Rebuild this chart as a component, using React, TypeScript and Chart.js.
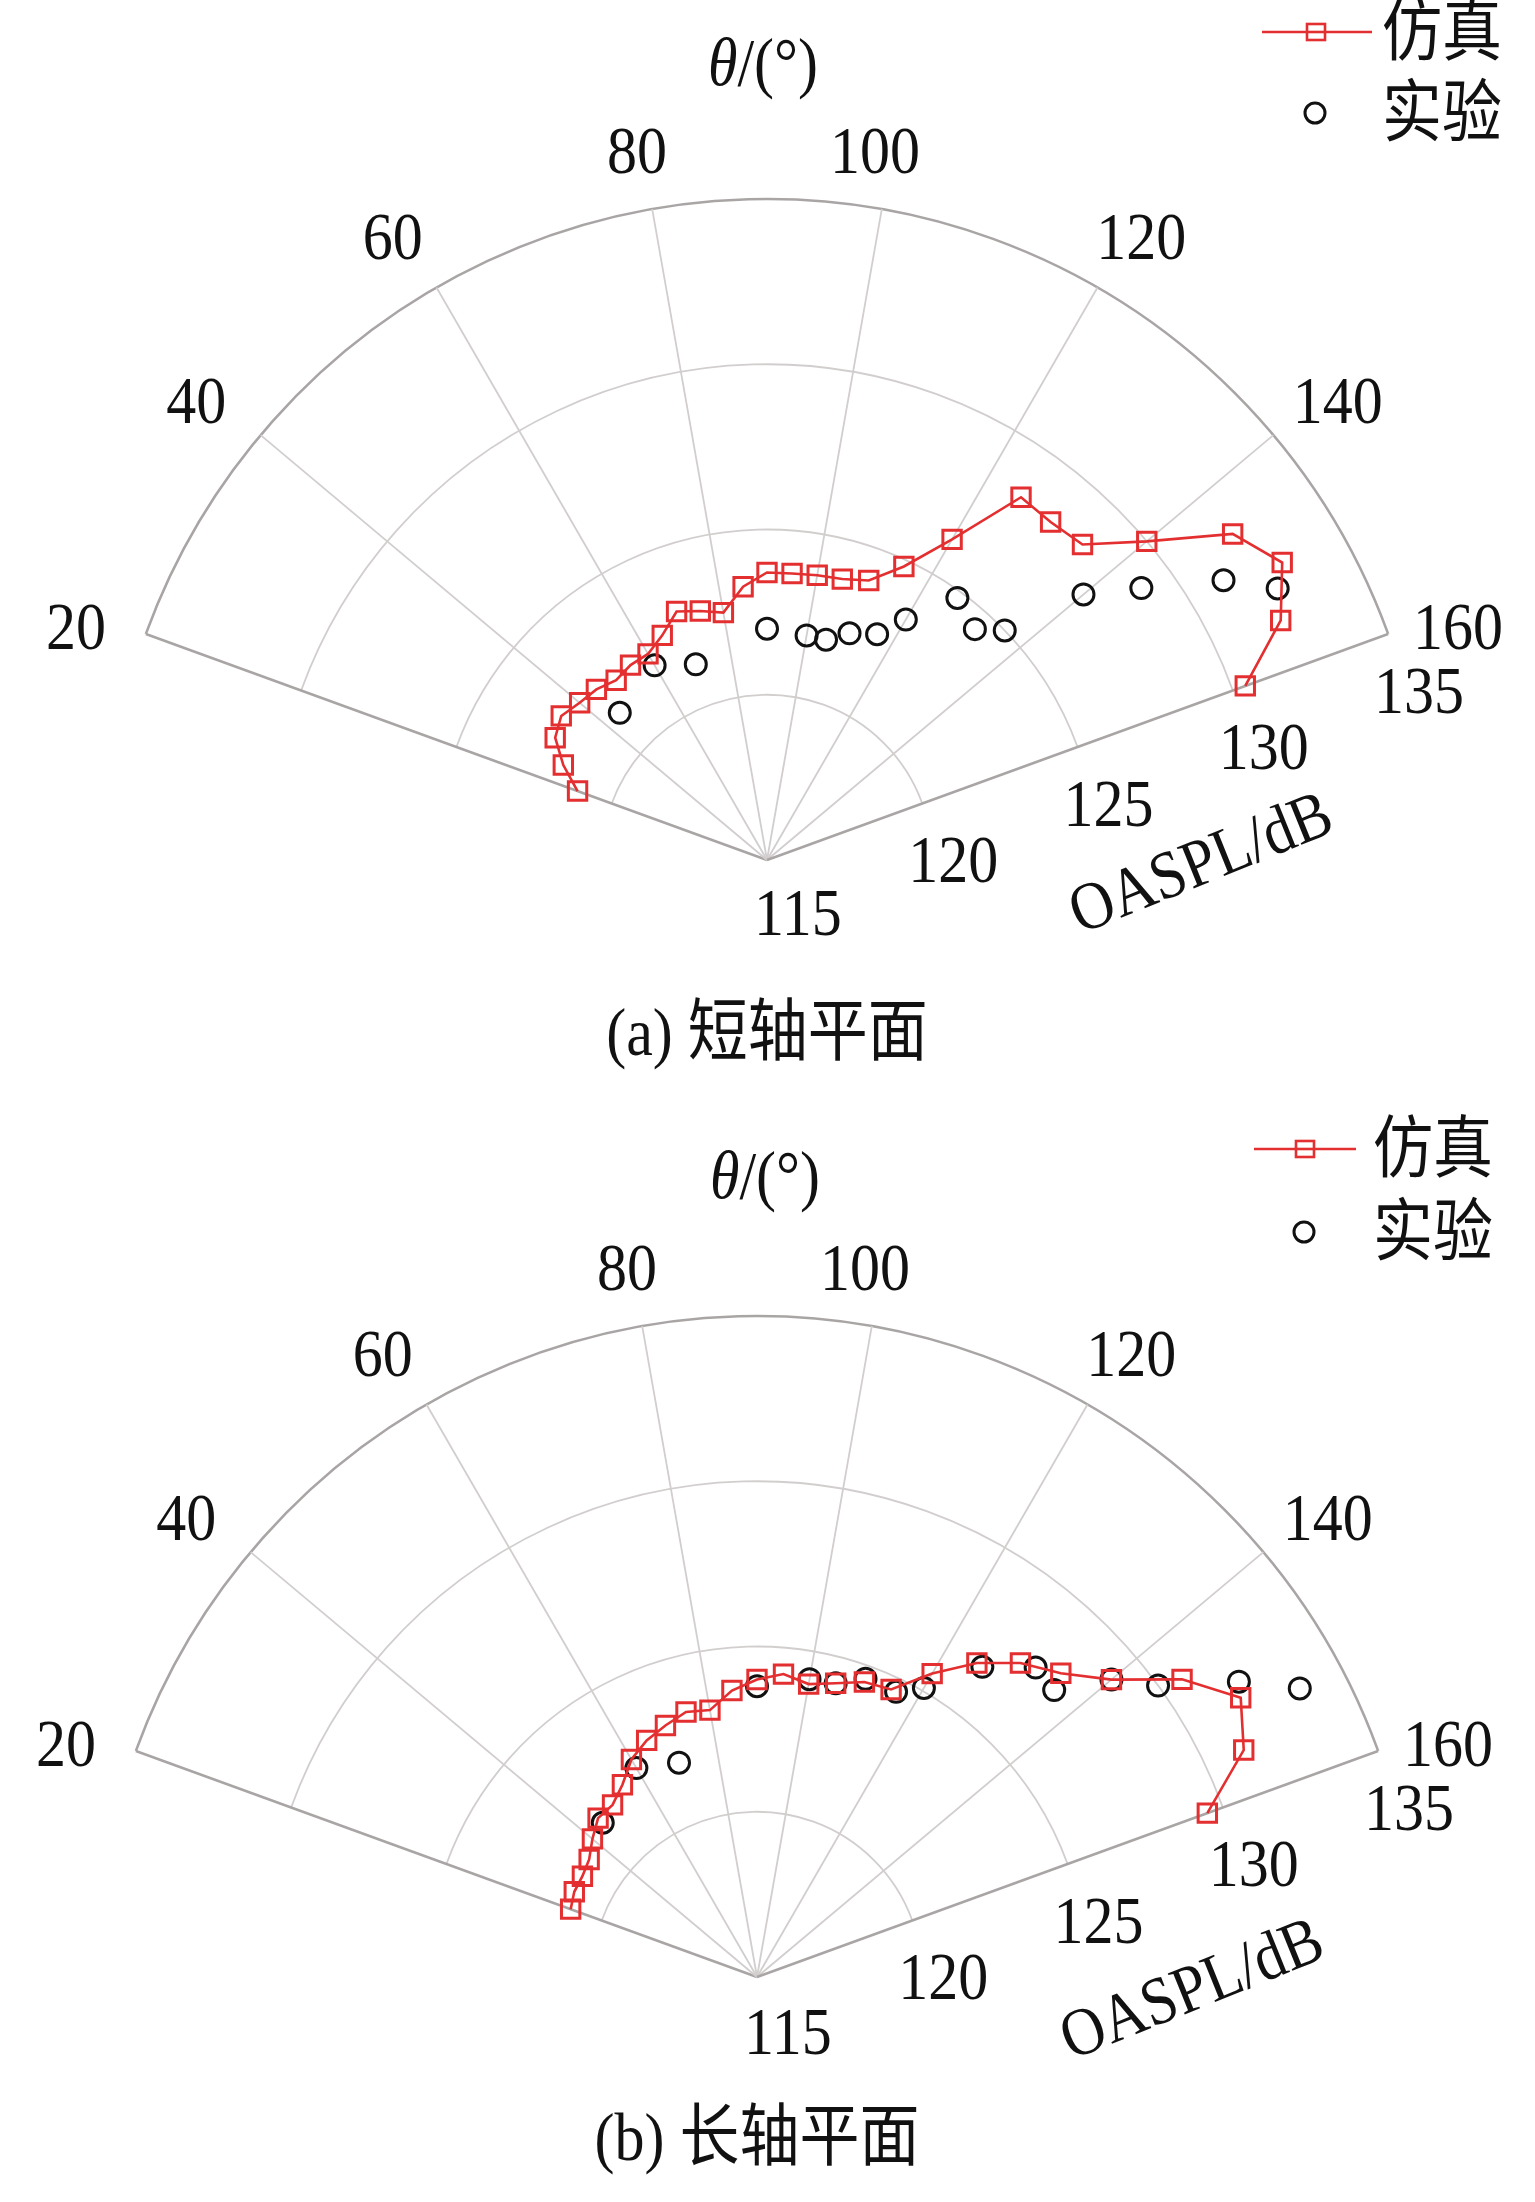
import React, { useEffect, useRef } from 'react';
import { Chart, registerables } from 'chart.js';

Chart.register(...registerables);

// ---------------- data ----------------
const thetaSim = [20, 25, 30, 35, 40, 45, 50, 55, 60, 65, 70, 75, 80, 85, 90, 95, 100, 105, 110, 115, 120, 125, 130, 135, 140, 145, 150, 155, 160];
const simShort = [121.1, 121.8, 122.4, 122.6, 122.4, 122.3, 122.1, 122.2, 122.2, 122.5, 123.0, 122.8, 122.6, 123.3, 123.7, 123.7, 123.75, 123.8, 124.0, 124.8, 126.2, 128.4, 128.35, 128.5, 130.0, 132.2, 133.0, 132.15, 130.4];
const simLong = [121.0, 121.1, 121.1, 121.2, 121.5, 121.8, 121.8, 122.1, 122.6, 122.9, 123.1, 123.3, 123.2, 123.7, 124.0, 124.2, 124.0, 124.2, 124.5, 124.6, 125.6, 126.6, 127.4, 128.0, 129.0, 130.7, 131.9, 131.25, 129.5];

const thetaExp = [45, 60, 70, 90, 100, 105, 110, 116, 120, 126, 132, 136, 140, 144, 148.5, 152];
const expShort = [121.3, 121.8, 121.3, 122.0, 121.9, 121.9, 122.3, 122.6, 123.4, 124.8, 124.4, 125.0, 127.5, 129.0, 131.2, 132.5];
const expLong = [121.6, 122.3, 121.9, 123.8, 124.15, 124.2, 124.6, 124.6, 125.1, 126.6, 127.6, 127.5, 129.0, 130.0, 132.1, 133.6];

const angleTicks = [20, 40, 60, 80, 100, 120, 140, 160];
const radialTicks = [115, 120, 125, 130, 135];
const THETA_MIN = 20;
const THETA_MAX = 160;
const R_MIN = 115;
const R_MAX = 135;
const seriesNames = ['仿真', '实验'];
const angleTitle = ['θ', '/(°)'];
const radialTitle = 'OASPL/dB';
const captions = ['(a) 短轴平面', '(b) 长轴平面'];

// ---------------- layout ----------------
const W = 1535;
const RPX = 661;
const FS = 60; // font size
const STRETCH = 1.13; // vertical text stretch seen in the figure
const SERIF = '"Liberation Serif", "Noto Sans CJK SC", serif';
const RED = '#e42f30';
const GRID_LIGHT = '#d2cece';
const GRID_DARK = '#a9a5a5';

const panels = [
  {
    top: 0, height: 1100, cx: 767, cy: 860, caption: captions[0], sim: simShort, exp: expShort,
    titleX: 763, titleY: 62, legLine: [1262, 1372], legY1: 32, legY2: 113, legTextX: 1382, legMarkX: 1316,
    oaspl: [1200, 861], capY: 1032, tick115dy: -4,
  },
  {
    top: 1100, height: 1102, cx: 757, cy: 877, caption: captions[1], sim: simLong, exp: expLong,
    titleX: 765, titleY: 75, legLine: [1254, 1356], legY1: 49, legY2: 132, legTextX: 1373, legMarkX: 1305,
    oaspl: [1191, 887], capY: 1037, tick115dy: -2,
  },
];

const deg = Math.PI / 180;
function toXY(theta: number, r: number) {
  const phi = (180 - theta) * deg;
  const d = r - R_MIN;
  return { x: d * Math.cos(phi), y: d * Math.sin(phi) };
}

// draw text vertically centred at (x, y), slightly stretched vertically
function drawText(ctx: CanvasRenderingContext2D, text: string, x: number, y: number, align: CanvasTextAlign, italic = false) {
  ctx.save();
  ctx.font = `${italic ? 'italic ' : ''}${FS}px ${SERIF}`;
  ctx.textAlign = align;
  ctx.textBaseline = 'alphabetic';
  ctx.translate(x, y);
  ctx.scale(1, STRETCH);
  ctx.fillText(text, 0, 0.34 * FS);
  ctx.restore();
}

function makePlugin(p: any) {
  return {
    id: 'fanGrid',
    beforeDatasetsDraw(chart: any) {
      const { ctx, scales } = chart;
      const xs = scales.x, ys = scales.y;
      const cxp = xs.getPixelForValue(0);
      const cyp = ys.getPixelForValue(0);
      const unit = xs.getPixelForValue(1) - cxp;
      ctx.save();
      radialTicks.slice(1).forEach((v) => {
        const rad = (v - R_MIN) * unit;
        const outer = v === R_MAX;
        ctx.beginPath();
        ctx.strokeStyle = outer ? GRID_DARK : GRID_LIGHT;
        ctx.lineWidth = outer ? 2.6 : 1.8;
        ctx.arc(cxp, cyp, rad, -(180 - THETA_MIN) * deg, -(180 - THETA_MAX) * deg, false);
        ctx.stroke();
      });
      angleTicks.forEach((t) => {
        const edge = t === THETA_MIN || t === THETA_MAX;
        const e = toXY(t, R_MAX);
        ctx.beginPath();
        ctx.strokeStyle = edge ? GRID_DARK : GRID_LIGHT;
        ctx.lineWidth = edge ? 2.6 : 1.8;
        ctx.moveTo(cxp, cyp);
        ctx.lineTo(xs.getPixelForValue(e.x), ys.getPixelForValue(e.y));
        ctx.stroke();
      });
      ctx.restore();
    },
    afterDraw(chart: any) {
      const { ctx, scales } = chart;
      const xs = scales.x, ys = scales.y;
      const cxp = xs.getPixelForValue(0);
      const cyp = ys.getPixelForValue(0);
      const unit = xs.getPixelForValue(1) - cxp;
      const Rp = (R_MAX - R_MIN) * unit;
      ctx.save();
      ctx.fillStyle = '#111';
      // angle tick labels
      angleTicks.forEach((t) => {
        const phi = (180 - t) * deg;
        const c = Math.cos(phi), s = Math.sin(phi);
        const c6 = Math.pow(c, 6);
        const x = cxp + (Rp + 88 - 20 * c6) * c + (t === 100 ? -22 : 0);
        const y = cyp - (Rp + 60) * s + 18 * c6;
        drawText(ctx, String(t), x, y, 'center');
      });
      // radial tick labels along the 160 edge
      const a = (180 - THETA_MAX) * deg;
      const al = [Math.cos(a), -Math.sin(a)];
      const pe = [Math.sin(a), Math.cos(a)];
      radialTicks.forEach((v) => {
        const d = (v - R_MIN) * unit;
        const x = cxp + d * al[0] + 63 * pe[0] + 10 * al[0];
        const y = cyp + d * al[1] + 63 * pe[1] + 10 * al[1] + (v === R_MIN ? p.tick115dy : 0);
        drawText(ctx, String(v), x, y, 'center');
      });
      // radial title
      ctx.save();
      ctx.translate(p.oaspl[0], p.oaspl[1]);
      ctx.rotate(-22 * deg);
      drawText(ctx, radialTitle, 0, 0, 'center');
      ctx.restore();
      // angle title
      ctx.font = `italic ${FS}px ${SERIF}`;
      const w1 = ctx.measureText(angleTitle[0]).width;
      ctx.font = `${FS}px ${SERIF}`;
      const w2 = ctx.measureText(angleTitle[1]).width;
      const x0 = p.titleX - (w1 + w2) / 2;
      drawText(ctx, angleTitle[0], x0, p.titleY, 'left', true);
      drawText(ctx, angleTitle[1], x0 + w1, p.titleY, 'left');
      // caption
      drawText(ctx, p.caption, cxp, p.capY, 'center');
      // legend
      drawText(ctx, seriesNames[0], p.legTextX, p.legY1, 'left');
      drawText(ctx, seriesNames[1], p.legTextX, p.legY2, 'left');
      ctx.strokeStyle = RED;
      ctx.lineWidth = 2.6;
      ctx.beginPath();
      ctx.moveTo(p.legLine[0], p.legY1);
      ctx.lineTo(p.legLine[1], p.legY1);
      ctx.stroke();
      ctx.fillStyle = '#fff';
      ctx.fillRect(p.legMarkX - 9, p.legY1 - 8, 18, 16);
      ctx.strokeRect(p.legMarkX - 9, p.legY1 - 8, 18, 16);
      ctx.beginPath();
      ctx.moveTo(p.legMarkX - 9, p.legY1);
      ctx.lineTo(p.legMarkX + 9, p.legY1);
      ctx.stroke();
      ctx.strokeStyle = '#111';
      ctx.lineWidth = 3;
      ctx.beginPath();
      ctx.arc(p.legMarkX - 1, p.legY2, 10, 0, Math.PI * 2);
      ctx.stroke();
      ctx.restore();
    },
  };
}

function Panel({ p }: { p: any }) {
  const ref = useRef<HTMLCanvasElement>(null);
  useEffect(() => {
    if (!ref.current) return;
    const unit = RPX / (R_MAX - R_MIN);
    const chart = new Chart(ref.current, {
      type: 'scatter',
      data: {
        datasets: [
          {
            label: seriesNames[0],
            data: thetaSim.map((t, i) => toXY(t, p.sim[i])),
            showLine: true,
            borderColor: RED,
            borderWidth: 2.6,
            backgroundColor: 'rgba(0,0,0,0)',
            pointStyle: 'rect',
            pointRadius: 13,
            pointBorderWidth: 3,
            pointBorderColor: RED,
            pointBackgroundColor: 'rgba(0,0,0,0)',
            tension: 0,
          },
          {
            label: seriesNames[1],
            data: thetaExp.map((t, i) => toXY(t, p.exp[i])),
            showLine: false,
            pointStyle: 'circle',
            pointRadius: 10.5,
            pointBorderWidth: 3,
            pointBorderColor: '#111',
            pointBackgroundColor: 'rgba(0,0,0,0)',
          },
        ],
      },
      options: {
        animation: false,
        responsive: false,
        devicePixelRatio: 1,
        events: [],
        layout: { padding: 0, autoPadding: false },
        plugins: { legend: { display: false }, tooltip: { enabled: false } },
        scales: {
          x: { type: 'linear', display: false, min: -p.cx / unit, max: (W - p.cx) / unit },
          y: { type: 'linear', display: false, min: -(p.height - p.cy) / unit, max: p.cy / unit },
        },
      },
      plugins: [makePlugin(p)],
    } as any);
    return () => chart.destroy();
  }, []);
  return (
    <canvas
      ref={ref}
      width={W}
      height={p.height}
      style={{ position: 'absolute', left: 0, top: p.top, width: W, height: p.height }}
    />
  );
}

export default function App() {
  return (
    <div style={{ position: 'absolute', left: 0, top: 0, width: W, height: 2202, background: '#fff' }}>
      {panels.map((p, i) => (
        <Panel key={i} p={p} />
      ))}
    </div>
  );
}
